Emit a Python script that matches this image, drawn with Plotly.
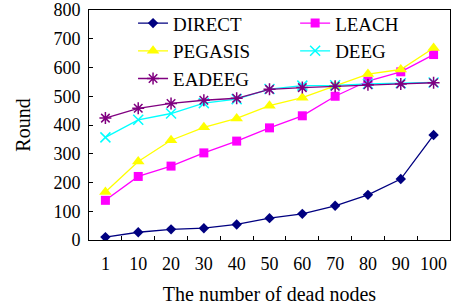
import plotly.graph_objects as go

categories = ["1", "10", "20", "30", "40", "50", "60", "70", "80", "90", "100"]
direct = [10, 27, 37, 41, 54, 76, 91, 119, 157, 212, 365]
leach = [138, 221, 257, 303, 344, 390, 432, 500, 553, 585, 645]
pegasis = [167, 273, 347, 392, 423, 467, 495, 535, 577, 593, 668]
deeg = [357, 418, 440, 476, 490, 525, 537, 538, 543, 545, 548]
eadeeg = [424, 458, 475, 486, 493, 524, 530, 535, 540, 543, 547]

FONT = "Liberation Serif, Times New Roman, serif"

fig = go.Figure()
series = [
    ("DIRECT", direct, "#000080", "diamond", 8, 0, "legend"),
    ("LEACH", leach, "#FF00FF", "square", 9, 0, "legend2"),
    ("PEGASIS", pegasis, "#FFFF00", "triangle-up", 11, 0, "legend"),
    ("DEEG", deeg, "#00FFFF", "x-thin-open", 10, 1.5, "legend2"),
    ("EADEEG", eadeeg, "#800080", "asterisk-open", 10, 1.5, "legend"),
]
for name, vals, col, sym, sz, lw, lg in series:
    mk = dict(symbol=sym, size=sz, color=col)
    if lw:
        mk["line"] = dict(color=col, width=lw)
    fig.add_trace(go.Scatter(x=categories, y=vals, name=name, mode="lines+markers",
                             line=dict(color=col, width=1.3), marker=mk, legend=lg))

leg_common = dict(orientation="v", y=1.025, xanchor="left", yanchor="top",
                  font=dict(size=19), bgcolor="rgba(0,0,0,0)", tracegroupgap=0,
                  itemwidth=30)

fig.update_layout(
    width=456, height=306,
    margin=dict(l=89, r=6, t=10, b=66, autoexpand=False),
    paper_bgcolor="white", plot_bgcolor="white",
    font=dict(family=FONT, size=18, color="black"),
    showlegend=True,
    legend=dict(x=0.122, **leg_common),
    legend2=dict(x=0.571, **leg_common),
    xaxis=dict(type="category", range=[-0.5, 10.5], showline=True, linecolor="black",
               linewidth=1, mirror=True, ticks="inside", ticklen=4, tickson="boundaries",
               tickcolor="black", showgrid=False, zeroline=False, tickangle=0,
               automargin=False, ticklabelstandoff=7,
               title=dict(text="The number of dead nodes", font=dict(size=20), standoff=14),
               tickfont=dict(size=18)),
    yaxis=dict(range=[0, 800], dtick=100, showline=True, linecolor="black", linewidth=1,
               mirror=True, ticks="inside", ticklen=4, tickcolor="black", showgrid=False,
               zeroline=False, automargin=False, ticklabelstandoff=4,
               title=dict(text="Round", font=dict(size=20), standoff=17),
               tickfont=dict(size=18)),
)

fig.write_html("out.html", config={"displayModeBar": False},
               post_script="document.body.style.margin='0';document.body.style.padding='0';")
